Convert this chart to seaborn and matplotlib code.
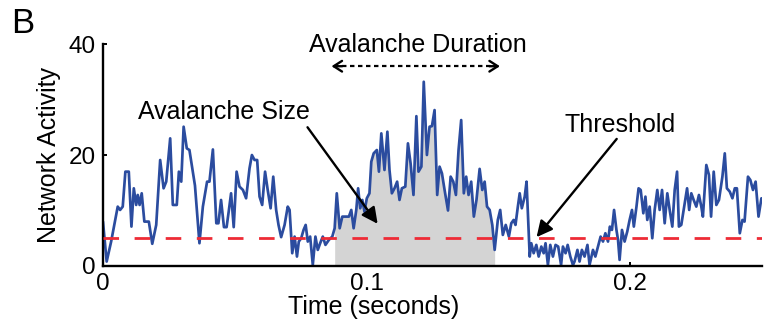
import numpy as np
import pandas as pd
import matplotlib
matplotlib.use("Agg")
import matplotlib.pyplot as plt
import seaborn as sns

# Network activity trace (time in ms, activity in active units)
time_ms = [
    0.0, 1.4, 3.1, 5.6, 6.5, 7.5, 8.5, 9.8, 10.8, 11.7, 12.6, 13.2, 13.9, 14.7, 15.7, 17.4, 18.7,
    20.2, 21.7, 23.0, 24.0, 25.5, 26.5, 28.0, 28.8, 29.7, 30.6, 31.8, 32.8,
    34.9, 36.6, 37.9, 39.5, 40.4, 41.7, 43.0, 43.8, 44.8, 45.9, 46.9, 47.7, 48.6, 49.6, 50.7,
    51.8, 53.1, 54.3, 55.6, 56.5, 57.5, 58.5, 59.4, 60.4, 61.5, 62.5, 63.6, 64.6, 65.7, 66.6,
    67.6, 68.9, 70.1,
    70.8, 71.8, 72.7, 73.6, 74.3, 75.2, 76.1, 76.9, 77.7, 78.6, 79.6, 80.6, 81.5, 82.4, 83.4,
    84.4, 85.7, 87.0, 87.9, 88.7, 89.8, 90.8, 92.0, 93.3, 94.2, 95.1, 96.1, 96.8, 97.6, 98.4,
    99.2, 100.1, 101.1, 101.8, 102.7, 103.9, 104.7, 105.6,
    106.8, 107.9, 108.7, 109.6, 110.6, 111.6, 112.5, 113.4, 114.7, 115.7, 116.7, 117.8, 118.9,
    119.7, 120.8, 121.7, 122.9, 123.9, 124.8, 125.8, 126.8, 127.7, 128.6, 129.6, 130.9, 131.9,
    132.9, 133.9, 134.9, 135.9, 136.9, 137.8, 138.7, 139.7, 140.7, 141.7,
    142.9, 143.9, 144.8, 145.7, 146.7, 147.7, 148.6, 149.8, 150.7, 151.7, 152.8, 154.0, 154.9,
    155.8, 156.5, 157.4, 158.1, 158.9, 160.0, 160.7, 161.9, 162.5, 163.4, 164.4, 165.3, 166.3,
    167.2, 167.9, 168.8, 169.7, 170.7, 171.7, 172.7, 173.8, 174.5, 175.5, 176.3, 177.3, 178.3,
    178.9, 180.0, 180.8, 181.7, 182.7, 183.8, 184.6, 185.9, 186.8, 187.8, 188.8, 189.7, 190.6,
    191.6, 192.3, 193.1, 193.9, 194.8, 195.4, 196.0, 196.9, 197.9, 198.9, 199.8, 200.7, 201.4,
    202.4, 203.2, 204.0, 205.0, 205.8, 206.5, 207.4, 208.4, 209.3, 210.3, 211.2, 212.1, 213.1,
    214.1,
    215.0, 216.0, 216.9, 217.8, 218.5, 219.4, 220.3, 221.6, 222.4, 223.2, 224.1, 225.1, 226.1,
    227.0, 227.6, 228.9, 229.9, 230.7, 231.7, 232.7, 233.7, 235.0, 235.9, 236.7, 237.8, 238.8,
    239.7, 240.5, 241.6, 242.6, 243.4, 244.7, 245.6, 246.6, 247.6, 248.7, 249.8,
]
activity = [
    8.0, 0.8, 4.4, 10.7, 10.1, 10.7, 17.0, 17.0, 7.1, 14.0, 11.0, 12.8, 11.0, 13.1, 8.0, 8.0, 4.0,
    7.4, 19.1, 14.0, 15.2, 23.0, 11.0, 11.0, 17.0, 15.2, 25.1, 21.2, 20.9,
    14.5, 4.1, 10.7, 15.2, 15.2, 21.0, 7.7, 7.7, 11.9, 7.0, 7.0, 9.8, 13.1, 7.0, 17.0,
    14.3, 13.7, 12.2, 17.6, 20.0, 19.1, 19.1, 12.5, 11.0, 17.0, 13.7, 10.4, 16.1, 10.1, 7.4,
    5.2, 7.4, 10.7,
    10.1, 2.3, 5.3, 1.7, 4.4, 5.0, 6.5, 7.4, 4.4, 5.3, 0.2, 5.3, 2.9, 4.1, 5.3,
    3.8, 4.7, 5.3, 6.8, 13.1, 6.8, 8.9, 8.9, 8.9, 10.1, 6.8, 10.1, 14.0, 10.4, 11.9,
    9.8, 12.2, 13.1, 18.8, 20.3, 20.9, 17.0, 23.9,
    17.3, 24.2, 17.3, 13.1, 14.0, 15.2, 11.9, 14.0, 14.3, 22.1, 18.5, 12.8, 27.0,
    17.0, 17.9, 33.2, 20.0, 25.1, 25.2, 28.1, 12.8, 17.9, 16.7, 13.7, 10.0, 16.1,
    15.2, 12.8, 20.9, 26.3, 13.1, 16.1, 12.8, 15.2, 8.9, 11.9,
    17.5, 13.7, 15.2, 10.7, 10.1, 7.4, 2.9, 8.3, 10.1, 5.6, 7.4, 5.3, 7.7,
    8.3, 7.4, 10.7, 13.1, 10.4, 12.5, 15.2, 1.7, 4.1, 2.3, 3.8, 1.7, 3.5,
    2.3, 4.1, 0.2, 3.8, 1.7, 3.8, 3.5, 0.2, 3.5, 2.3, 3.8, 1.7, 0.2,
    0.8, 2.9, 0.8, 2.9, 1.7, 3.8, 0.2, 2.9, 1.7, 3.5, 5.3, 4.4, 5.9,
    4.4, 7.1, 6.5, 10.1, 6.5, 4.7, 1.1, 6.5, 4.4, 6.2, 8.3, 10.1, 7.1,
    10.7, 14.0, 13.7, 9.5, 12.5, 8.3, 10.7, 5.0, 10.1, 13.7, 10.1, 13.7, 7.7,
    13.1,
    10.1, 7.1, 13.7, 17.0, 7.1, 7.4, 10.1, 14.0, 10.1, 13.1, 11.9, 10.7, 12.8,
    10.7, 8.9, 18.2, 16.4, 8.9, 17.0, 11.0, 11.9, 16.1, 20.3, 14.0, 13.4, 12.2,
    14.0, 14.0, 5.9, 8.3, 8.0, 16.1, 15.5, 13.7, 15.2, 8.9, 12.2,
]

threshold = 5.0
avalanche_start = 0.0879   # s
avalanche_end = 0.1486     # s

x_ticks = [0, 0.1, 0.2]
x_tick_labels = ["0", "0.1", "0.2"]
y_ticks = [0, 20, 40]

sns.set_theme(style="ticks")
plt.rcParams["font.family"] = ["Liberation Sans", "DejaVu Sans"]
plt.rcParams["text.color"] = "black"
plt.rcParams["axes.labelcolor"] = "black"

df = pd.DataFrame({"time": np.array(time_ms) / 1000.0, "activity": activity})

fig = plt.figure(figsize=(7.65, 3.31), dpi=100)
ax = fig.add_axes([0.1346, 0.1964, 0.996 - 0.1346, 0.867 - 0.1964])

t = df["time"].to_numpy()
a = df["activity"].to_numpy()
in_avalanche = (t >= avalanche_start) & (t <= avalanche_end)
ax.fill_between(t, 0, a, where=in_avalanche, color="#d4d4d4", linewidth=0, zorder=1)

sns.lineplot(data=df, x="time", y="activity", estimator=None, sort=False,
             color="#2b4c9f", linewidth=1.95, ax=ax, zorder=2)

ax.axhline(threshold, color="#ee2b36", linewidth=2.0, linestyle=(0, (5.6, 5.6)), zorder=3)

ax.set_xlim(0, 0.25)
ax.set_ylim(0, 40)
ax.set_xticks(x_ticks)
ax.set_xticklabels(x_tick_labels)
ax.set_yticks(y_ticks)
ax.tick_params(direction="in", length=3, width=1.4, labelsize=17.5, colors="black", pad=5)
for side in ("left", "bottom"):
    ax.spines[side].set_linewidth(1.7)
    ax.spines[side].set_color("black")
sns.despine(ax=ax)

ax.set_xlabel("Time (seconds)", fontsize=18, labelpad=0)
ax.set_ylabel("Network Activity", fontsize=18, labelpad=6)
ax.xaxis.set_label_coords(0.41, -0.13)

# Avalanche duration: dashed span with open heads
dur_y = 36.0
x0 = avalanche_start - 0.0012
x1 = avalanche_end + 0.002
ax.plot([x0 + 0.001, x1 - 0.001], [dur_y, dur_y], color="black", linewidth=1.6,
        linestyle=(0, (2.0, 1.6)), clip_on=False, zorder=4)
for tip, tail in ((x0, x0 + 0.004), (x1, x1 - 0.004)):
    ax.annotate("", xy=(tip, dur_y), xytext=(tail, dur_y),
                arrowprops=dict(arrowstyle="->,head_length=0.5,head_width=0.32",
                                color="black", lw=1.7, shrinkA=0, shrinkB=0))
ax.text((avalanche_start + avalanche_end) / 2 + 0.0012, 39.8, "Avalanche Duration",
        ha="center", va="center", fontsize=18, clip_on=False)

# Avalanche size callout
ax.text(0.0458, 27.7, "Avalanche Size", ha="center", va="center", fontsize=18)
ax.annotate("", xy=(0.1042, 7.6), xytext=(0.0776, 25.0),
            arrowprops=dict(arrowstyle="-|>,head_length=0.8,head_width=0.4",
                            color="black", lw=1.7, shrinkA=0, shrinkB=0,
                            mutation_scale=12))

# Threshold callout
ax.text(0.196, 25.4, "Threshold", ha="center", va="center", fontsize=18)
ax.annotate("", xy=(0.1645, 5.2), xytext=(0.1949, 22.9),
            arrowprops=dict(arrowstyle="-|>,head_length=0.8,head_width=0.4",
                            color="black", lw=1.7, shrinkA=0, shrinkB=0,
                            mutation_scale=12))

fig.text(11 / 765, 1 - 33 / 331, "B", fontsize=25, ha="left", va="baseline")

fig.savefig("out.png", dpi=100)
